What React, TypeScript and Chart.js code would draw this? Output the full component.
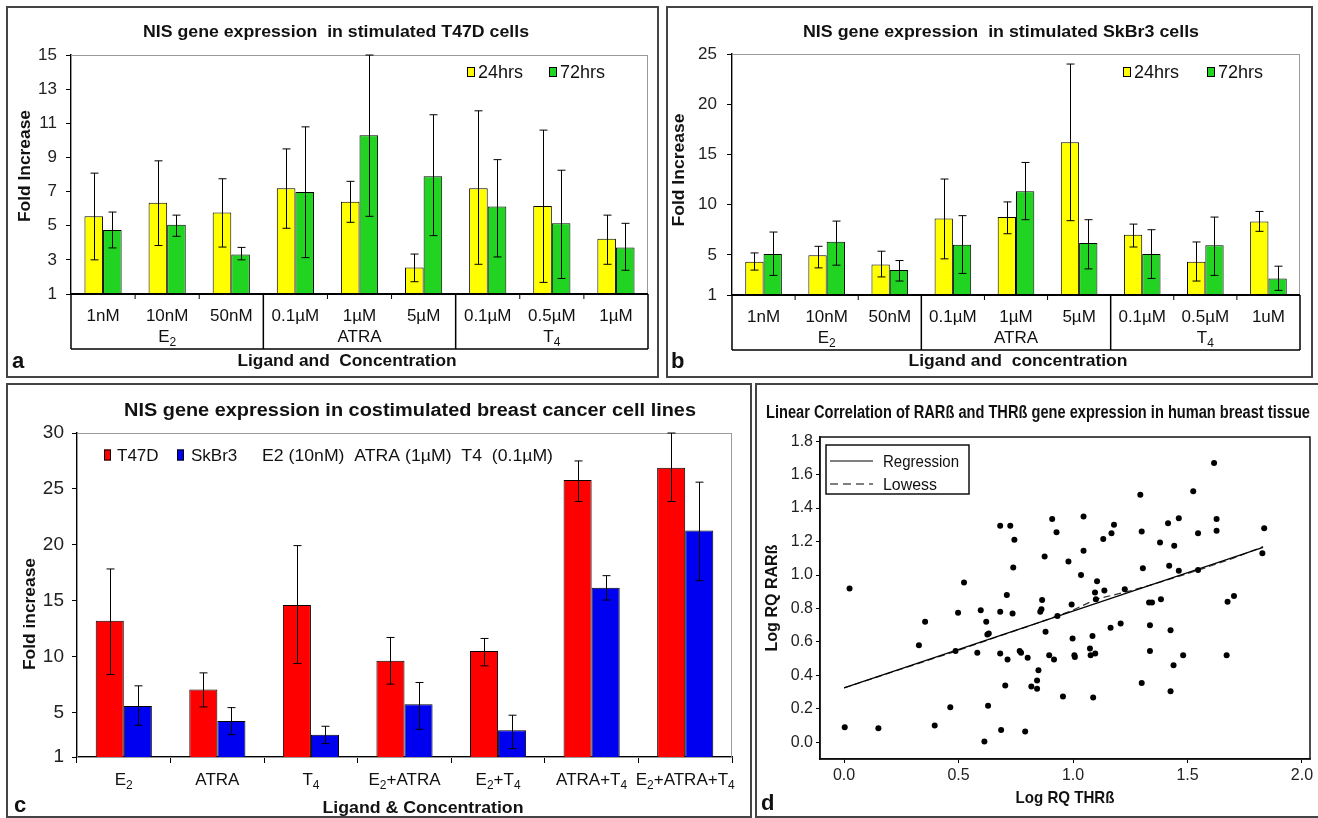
import React, { useEffect, useRef } from "react";
import { Chart, registerables } from "chart.js";

Chart.register(...registerables);

const W = 1318;
const H = 818;
const FONT = "'Liberation Sans', Arial, Helvetica, sans-serif";
Chart.defaults.font.family = FONT;
Chart.defaults.color = "#222";

// ---------- Panel a : T47D ----------
const concLabelsA = ["1nM", "10nM", "50nM", "0.1µM", "1µM", "5µM", "0.1µM", "0.5µM", "1µM"];
const groupNames = ["E₂", "ATRA", "T₄"];
const groupSizes = [3, 3, 3];
const seriesNames = ["24hrs", "72hrs"];
const t47d24 = [5.55, 6.34, 5.78, 7.19, 6.4, 2.55, 7.19, 6.16, 4.23];
const t47d24Hi = [8.08, 8.8, 7.75, 9.5, 7.6, 3.34, 11.73, 10.6, 5.62];
const t47d24Lo = [3.0, 3.84, 3.75, 4.85, 5.2, 1.72, 2.74, 1.68, 2.74];
const t47d72 = [4.75, 5.06, 3.32, 6.98, 10.3, 7.9, 6.13, 5.14, 3.73];
const t47d72Hi = [5.8, 5.62, 3.73, 10.79, 15.0, 11.5, 8.87, 8.25, 5.14];
const t47d72Lo = [3.7, 4.38, 3.0, 3.13, 5.55, 4.42, 3.17, 1.91, 2.39];
const yTicksA = [1, 3, 5, 7, 9, 11, 13, 15];

// ---------- Panel b : SkBr3 ----------
const concLabelsB = ["1nM", "10nM", "50nM", "0.1µM", "1µM", "5µM", "0.1µM", "0.5µM", "1uM"];
const skbr24 = [4.3, 4.96, 4.04, 8.62, 8.76, 16.2, 7.0, 4.3, 8.33];
const skbr24Hi = [5.19, 5.85, 5.36, 12.55, 10.27, 24.0, 8.06, 6.28, 9.32];
const skbr24Lo = [3.48, 3.7, 2.8, 4.6, 7.1, 8.4, 5.78, 2.39, 7.34];
const skbr72 = [5.09, 6.31, 3.48, 6.0, 11.33, 6.18, 5.09, 5.95, 2.65];
const skbr72Hi = [7.27, 8.36, 4.43, 8.9, 14.2, 8.5, 7.5, 8.76, 3.87];
const skbr72Lo = [2.95, 3.97, 2.39, 3.15, 8.5, 3.6, 2.65, 2.95, 1.46];
const yTicksB = [1, 5, 10, 15, 20, 25];

// ---------- Panel c : costimulation ----------
const comboLabels = ["E₂", "ATRA", "T₄", "E₂+ATRA", "E₂+T₄", "ATRA+T₄", "E₂+ATRA+T₄"];
const cellNames = ["T47D", "SkBr3"];
const coT47d = [13.2, 7.04, 14.6, 9.61, 10.48, 25.8, 26.9];
const coT47dHi = [17.83, 8.53, 19.92, 11.7, 11.61, 27.5, 30];
const coT47dLo = [8.38, 5.48, 9.37, 7.52, 9.16, 23.87, 23.87];
const coSkbr = [5.57, 4.23, 3.0, 5.72, 3.39, 16.16, 21.27];
const coSkbrHi = [7.37, 5.42, 3.75, 7.67, 4.74, 17.23, 25.6];
const coSkbrLo = [3.84, 3.0, 2.2, 3.48, 1.75, 15.05, 16.78];
const yTicksC = [1, 5, 10, 15, 20, 25, 30];
const doseNote = "E2 (10nM)  ATRA (1µM)  T4  (0.1µM)";

// ---------- Panel d : correlation ----------
const tissuePoints: [number, number][] = [
  [0.024, 0.92], [0.003, 0.09], [0.15, 0.084], [0.354, 0.72], [0.327, 0.58], [0.396, 0.1], [0.464, 0.21], [0.487, 0.545], [0.498, 0.775], [0.524, 0.955],
  [0.582, 0.535], [0.597, 0.79], [0.621, 0.72], [0.626, 0.645], [0.632, 0.65], [0.629, 0.218], [0.613, 0.004], [0.682, 1.295], [0.726, 1.295], [0.744, 1.21],
  [0.739, 1.045], [0.711, 0.88], [0.682, 0.78], [0.736, 0.77], [0.682, 0.53], [0.714, 0.495], [0.704, 0.34], [0.686, 0.074], [0.767, 0.545], [0.773, 0.535],
  [0.791, 0.064], [0.802, 0.505], [0.818, 0.334], [0.843, 0.32], [0.843, 0.37], [0.849, 0.43], [0.857, 0.78], [0.865, 0.85], [0.862, 0.795], [0.876, 1.11],
  [0.88, 0.66], [0.896, 0.52], [0.909, 1.335], [0.917, 0.495], [0.928, 1.255], [0.932, 0.755], [0.956, 0.274], [0.98, 1.08], [0.994, 0.823], [0.998, 0.62],
  [1.006, 0.52], [1.008, 0.51], [1.035, 1.0], [1.046, 1.145], [1.046, 1.35], [1.074, 0.56], [1.077, 0.52], [1.085, 0.635], [1.088, 0.268], [1.096, 0.895],
  [1.1, 0.855], [1.097, 0.53], [1.105, 0.963], [1.132, 1.215], [1.137, 0.907], [1.164, 0.685], [1.168, 1.25], [1.179, 1.3], [1.208, 0.71], [1.226, 0.915],
  [1.294, 1.48], [1.3, 1.26], [1.305, 1.04], [1.3, 0.354], [1.332, 0.835], [1.345, 0.835], [1.336, 0.7], [1.336, 0.545], [1.38, 1.195], [1.384, 0.855],
  [1.415, 1.31], [1.42, 1.055], [1.426, 0.67], [1.426, 0.305], [1.439, 0.46], [1.442, 1.175], [1.462, 1.34], [1.462, 1.025], [1.481, 0.52], [1.525, 1.5],
  [1.546, 1.25], [1.546, 1.03], [1.616, 1.67], [1.627, 1.335], [1.627, 1.265], [1.671, 0.52], [1.675, 0.84], [1.703, 0.875], [1.835, 1.28], [1.827, 1.13],
];
const regressionLine: [number, number][] = [[0, 0.325], [1.83, 1.165]];
const lowessLine: [number, number][] = [
  [0, 0.325], [0.3, 0.46], [0.5, 0.55], [0.7, 0.645], [0.85, 0.715], [1.0, 0.79],
  [1.1, 0.855], [1.25, 0.905], [1.4, 0.965], [1.55, 1.03], [1.7, 1.1], [1.83, 1.17],
];
const xTicksD = [0, 0.5, 1.0, 1.5, 2.0];
const yTicksD = [0, 0.2, 0.4, 0.6, 0.8, 1.0, 1.2, 1.4, 1.6, 1.8];
const lineNames = ["Regression", "Lowess"];

// ---------- styles ----------
const YELLOW = "#ffff00";
const GREEN = "#22d422";
const RED = "#ff0000";
const BLUE = "#0000f0";
const SUBS = "₀₁₂₃₄₅₆₇₈₉";

type Area = { left: number; top: number; right: number; bottom: number };

function drawRich(
  ctx: CanvasRenderingContext2D,
  text: string,
  x: number,
  y: number,
  o: { size: number; bold?: boolean; color?: string; align?: "left" | "center" | "right"; rotate?: number; width?: number }
) {
  const runs: { t: string; sub: boolean }[] = [];
  for (const ch of text) {
    const k = SUBS.indexOf(ch);
    const sub = k >= 0;
    const c = sub ? String(k) : ch;
    const last = runs[runs.length - 1];
    if (last && last.sub === sub) last.t += c;
    else runs.push({ t: c, sub });
  }
  const wt = o.bold ? "bold " : "";
  const fN = `${wt}${o.size}px ${FONT}`;
  const fS = `${wt}${Math.round(o.size * 0.72)}px ${FONT}`;
  ctx.save();
  const widths = runs.map((r) => {
    ctx.font = r.sub ? fS : fN;
    return ctx.measureText(r.t).width;
  });
  const total = widths.reduce((a, b) => a + b, 0);
  ctx.translate(x, y);
  if (o.rotate) ctx.rotate(o.rotate);
  if (o.width) ctx.scale(o.width / total, 1);
  const align = o.align || "center";
  let cx = align === "center" ? -total / 2 : align === "right" ? -total : 0;
  ctx.fillStyle = o.color || "#111";
  ctx.textAlign = "left";
  ctx.textBaseline = "alphabetic";
  const base = o.size * 0.358;
  runs.forEach((r, i) => {
    ctx.font = r.sub ? fS : fN;
    ctx.fillText(r.t, cx, r.sub ? base + o.size * 0.22 : base);
    cx += widths[i];
  });
  ctx.restore();
}

function line(ctx: CanvasRenderingContext2D, x1: number, y1: number, x2: number, y2: number, color = "#000", lw = 1, dash: number[] = []) {
  ctx.save();
  ctx.strokeStyle = color;
  ctx.lineWidth = lw;
  ctx.setLineDash(dash);
  ctx.beginPath();
  ctx.moveTo(x1, y1);
  ctx.lineTo(x2, y2);
  ctx.stroke();
  ctx.restore();
}

function swatch(ctx: CanvasRenderingContext2D, x: number, yc: number, w: number, h: number, color: string) {
  ctx.save();
  ctx.fillStyle = color;
  ctx.fillRect(x, yc - h / 2, w, h);
  ctx.strokeStyle = "#000";
  ctx.lineWidth = 1;
  ctx.strokeRect(x + 0.5, yc - h / 2 + 0.5, w - 1, h - 1);
  ctx.restore();
}

function layoutFor(area: Area, yW: number, xH: number) {
  return { padding: { left: area.left - yW, top: area.top, right: W - area.right, bottom: H - area.bottom - xH } };
}

function yAxis(min: number, max: number, ticks: number[], o: { w: number; size: number; pad: number; tick: number; fmt?: (v: number) => string }) {
  return {
    type: "linear",
    min,
    max,
    afterBuildTicks: (s: any) => {
      s.ticks = ticks.map((v) => ({ value: v }));
    },
    afterFit: (s: any) => {
      s.width = o.w;
      s.paddingTop = 0;
      s.paddingBottom = 0;
      s.paddingLeft = 0;
      s.paddingRight = 0;
    },
    ticks: { font: { size: o.size }, color: "#222", padding: o.pad, callback: (v: any) => (o.fmt ? o.fmt(Number(v)) : String(v)) },
    grid: { drawOnChartArea: false, drawTicks: true, tickLength: o.tick, color: "#000", lineWidth: 1 },
    border: { display: true, color: "#000", width: 1.5 },
  };
}

const errorBarPlugin = {
  id: "errorBars",
  afterDatasetsDraw(chart: any) {
    const ctx = chart.ctx as CanvasRenderingContext2D;
    const ys = chart.scales.y;
    chart.data.datasets.forEach((ds: any, i: number) => {
      if (!ds.errHi) return;
      const meta = chart.getDatasetMeta(i);
      meta.data.forEach((el: any, j: number) => {
        const x = Math.round(el.x) + 0.5;
        const yh = ys.getPixelForValue(ds.errHi[j]);
        const yl = ys.getPixelForValue(ds.errLo[j]);
        ctx.save();
        ctx.strokeStyle = "#000";
        ctx.lineWidth = 1;
        ctx.beginPath();
        ctx.moveTo(x, yl);
        ctx.lineTo(x, yh);
        ctx.moveTo(x - 4, yh);
        ctx.lineTo(x + 4, yh);
        ctx.moveTo(x - 4, yl);
        ctx.lineTo(x + 4, yl);
        ctx.stroke();
        ctx.restore();
      });
    });
  },
};

type ABParams = {
  id: string;
  labels: string[];
  s24: number[]; s24Hi: number[]; s24Lo: number[];
  s72: number[]; s72Hi: number[]; s72Lo: number[];
  yMax: number; yTicks: number[];
  area: Area; tickPad: number;
  title: string; titleX: number; titleW: number;
  yTitleX: number; yTitleY: number; yTitleW: number;
  xTitle: string; xTitleX: number; xTitleW: number;
  letter: string; letterX: number; letterY: number;
  legend: [number, number, number, number];
};

function makeAB(p: ABParams) {
  const decor = {
    id: "decor" + p.id,
    beforeDatasetsDraw(chart: any) {
      const ctx = chart.ctx as CanvasRenderingContext2D;
      const a = chart.chartArea;
      ctx.save();
      ctx.strokeStyle = "#9a9a9a";
      ctx.lineWidth = 1;
      ctx.strokeRect(a.left + 0.5, a.top + 0.5, a.right - a.left - 1, a.bottom - a.top);
      ctx.restore();
    },
    afterDraw(chart: any) {
      const ctx = chart.ctx as CanvasRenderingContext2D;
      const a = chart.chartArea;
      const xs = chart.scales.x;
      const step = xs.getPixelForValue(1) - xs.getPixelForValue(0);
      const tb = a.bottom + 55;
      line(ctx, a.left, a.bottom, a.right, a.bottom, "#000", 2);
      line(ctx, a.left, a.bottom, a.left, tb, "#000", 1.5);
      line(ctx, a.right, a.bottom, a.right, tb, "#000", 1.5);
      line(ctx, a.left, tb, a.right, tb, "#000", 1.5);
      let idx = 0;
      const groupEnds: number[] = [];
      groupSizes.forEach((g) => {
        idx += g;
        groupEnds.push(idx - 1);
      });
      p.labels.forEach((lab, i) => {
        const cx = xs.getPixelForValue(i);
        drawRich(ctx, lab, cx, a.bottom + 21, { size: 17, color: "#111" });
        if (i < p.labels.length - 1) {
          const bx = cx + step / 2;
          if (groupEnds.includes(i)) line(ctx, bx, a.bottom, bx, tb, "#000", 1.5);
          else line(ctx, bx, a.bottom, bx, a.bottom + 5, "#000", 1);
        }
      });
      let start = 0;
      groupNames.forEach((g, k) => {
        const first = xs.getPixelForValue(start);
        const last = xs.getPixelForValue(start + groupSizes[k] - 1);
        drawRich(ctx, g, (first + last) / 2, a.bottom + 42, { size: 17, color: "#111" });
        start += groupSizes[k];
      });
      const ly = 72;
      swatch(ctx, p.legend[0], ly, 8, 10, YELLOW);
      drawRich(ctx, seriesNames[0], p.legend[1], ly, { size: 18, align: "left", color: "#111" });
      swatch(ctx, p.legend[2], ly, 8, 10, GREEN);
      drawRich(ctx, seriesNames[1], p.legend[3], ly, { size: 18, align: "left", color: "#111" });
      drawRich(ctx, p.title, p.titleX, 31, { size: 17, bold: true, width: p.titleW });
      drawRich(ctx, "Fold Increase", p.yTitleX, p.yTitleY, { size: 17, bold: true, rotate: -Math.PI / 2, width: p.yTitleW });
      drawRich(ctx, p.xTitle, p.xTitleX, 360, { size: 17, bold: true, width: p.xTitleW });
      drawRich(ctx, p.letter, p.letterX, p.letterY, { size: 22, bold: true, align: "left" });
    },
  };
  return {
    type: "bar",
    data: {
      labels: p.labels,
      datasets: [
        { label: seriesNames[0], data: p.s24, errHi: p.s24Hi, errLo: p.s24Lo, backgroundColor: YELLOW, borderColor: "#000", borderWidth: 1 },
        { label: seriesNames[1], data: p.s72, errHi: p.s72Hi, errLo: p.s72Lo, backgroundColor: GREEN, borderColor: "#000", borderWidth: 1 },
      ],
    },
    options: {
      responsive: false,
      animation: false,
      devicePixelRatio: 1,
      layout: layoutFor(p.area, 40, 0),
      datasets: { bar: { categoryPercentage: 0.58, barPercentage: 1 } },
      plugins: { legend: { display: false }, title: { display: false }, tooltip: { enabled: false } },
      scales: {
        x: { type: "category", display: false, offset: true },
        y: yAxis(1, p.yMax, p.yTicks, { w: 40, size: 17, pad: p.tickPad, tick: 5 }),
      },
    },
    plugins: [decor, errorBarPlugin],
  };
}

function configA() {
  return makeAB({
    id: "A",
    labels: concLabelsA,
    s24: t47d24, s24Hi: t47d24Hi, s24Lo: t47d24Lo,
    s72: t47d72, s72Hi: t47d72Hi, s72Lo: t47d72Lo,
    yMax: 15, yTicks: yTicksA,
    area: { left: 71, top: 55, right: 648, bottom: 294 }, tickPad: 9,
    title: "NIS gene expression  in stimulated T47D cells", titleX: 336, titleW: 386,
    yTitleX: 24, yTitleY: 166, yTitleW: 112,
    xTitle: "Ligand and  Concentration", xTitleX: 347, xTitleW: 219,
    letter: "a", letterX: 12, letterY: 360,
    legend: [467, 478, 549, 560],
  });
}

function configB() {
  return makeAB({
    id: "B",
    labels: concLabelsB,
    s24: skbr24, s24Hi: skbr24Hi, s24Lo: skbr24Lo,
    s72: skbr72, s72Hi: skbr72Hi, s72Lo: skbr72Lo,
    yMax: 25, yTicks: yTicksB,
    area: { left: 732, top: 54, right: 1300, bottom: 295 }, tickPad: 10,
    title: "NIS gene expression  in stimulated SkBr3 cells", titleX: 1001, titleW: 396,
    yTitleX: 678, yTitleY: 170, yTitleW: 113,
    xTitle: "Ligand and  concentration", xTitleX: 1018, xTitleW: 219,
    letter: "b", letterX: 671, letterY: 360,
    legend: [1123, 1134, 1207, 1218],
  });
}

function configC() {
  const area = { left: 77, top: 433, right: 732, bottom: 757 };
  const decor = {
    id: "decorC",
    beforeDatasetsDraw(chart: any) {
      const ctx = chart.ctx as CanvasRenderingContext2D;
      const a = chart.chartArea;
      ctx.save();
      ctx.strokeStyle = "#9a9a9a";
      ctx.lineWidth = 1;
      ctx.strokeRect(a.left + 0.5, a.top + 0.5, a.right - a.left - 1, a.bottom - a.top);
      ctx.restore();
    },
    afterDraw(chart: any) {
      const ctx = chart.ctx as CanvasRenderingContext2D;
      const a = chart.chartArea;
      const xs = chart.scales.x;
      comboLabels.forEach((lab, i) => {
        drawRich(ctx, lab, xs.getPixelForValue(i), a.bottom + 22, { size: 17, color: "#111" });
      });
      const ly = 455;
      swatch(ctx, 104, ly, 7, 11, RED);
      drawRich(ctx, cellNames[0], 117, ly, { size: 17, align: "left" });
      swatch(ctx, 177, ly, 7, 11, BLUE);
      drawRich(ctx, cellNames[1], 191, ly, { size: 17, align: "left" });
      drawRich(ctx, doseNote, 262, ly, { size: 17, align: "left", width: 291 });
      drawRich(ctx, "NIS gene expression in costimulated breast cancer cell lines", 410, 410, { size: 18, bold: true, width: 572 });
      drawRich(ctx, "Fold increase", 29, 614, { size: 17, bold: true, rotate: -Math.PI / 2, width: 112 });
      drawRich(ctx, "Ligand & Concentration", 423, 807, { size: 17, bold: true, width: 201 });
      drawRich(ctx, "c", 14, 804, { size: 22, bold: true, align: "left" });
    },
  };
  return {
    type: "bar",
    data: {
      labels: comboLabels,
      datasets: [
        { label: cellNames[0], data: coT47d, errHi: coT47dHi, errLo: coT47dLo, backgroundColor: RED, borderColor: "#000", borderWidth: 1 },
        { label: cellNames[1], data: coSkbr, errHi: coSkbrHi, errLo: coSkbrLo, backgroundColor: BLUE, borderColor: "#000", borderWidth: 1 },
      ],
    },
    options: {
      responsive: false,
      animation: false,
      devicePixelRatio: 1,
      layout: layoutFor(area, 40, 40),
      datasets: { bar: { categoryPercentage: 0.6, barPercentage: 1 } },
      plugins: { legend: { display: false }, title: { display: false }, tooltip: { enabled: false } },
      scales: {
        x: {
          type: "category",
          offset: true,
          afterFit: (s: any) => {
            s.height = 40;
            s.paddingLeft = 0;
            s.paddingRight = 0;
          },
          ticks: { display: false },
          grid: { offset: true, drawOnChartArea: false, drawTicks: true, tickLength: 6, color: "#000", lineWidth: 1 },
          border: { display: true, color: "#000", width: 1.5 },
        },
        y: yAxis(1, 30, yTicksC, { w: 40, size: 19, pad: 8, tick: 5 }),
      },
    },
    plugins: [decor, errorBarPlugin],
  };
}

function configD() {
  const area = { left: 820, top: 437, right: 1310, bottom: 759 };
  const decor = {
    id: "decorD",
    afterDraw(chart: any) {
      const ctx = chart.ctx as CanvasRenderingContext2D;
      const a = chart.chartArea;
      ctx.save();
      ctx.strokeStyle = "#111";
      ctx.lineWidth = 1.5;
      ctx.strokeRect(a.left, a.top, a.right - a.left, a.bottom - a.top);
      ctx.fillStyle = "#fff";
      ctx.fillRect(826, 445, 143, 49);
      ctx.strokeRect(826, 445, 143, 49);
      ctx.restore();
      line(ctx, 830, 461, 873, 461, "#000", 1.2);
      drawRich(ctx, lineNames[0], 883, 461, { size: 17, align: "left", width: 76 });
      line(ctx, 830, 484, 873, 484, "#000", 1.2, [8, 5]);
      drawRich(ctx, lineNames[1], 883, 484, { size: 17, align: "left", width: 54 });
      drawRich(ctx, "Linear Correlation of RARß and THRß gene expression in human breast tissue", 1038, 412, { size: 18, bold: true, width: 544 });
      drawRich(ctx, "Log RQ RARß", 771, 598, { size: 17, bold: true, rotate: -Math.PI / 2, width: 107 });
      drawRich(ctx, "Log RQ THRß", 1065, 797, { size: 17, bold: true, width: 99 });
      drawRich(ctx, "d", 761, 802, { size: 22, bold: true, align: "left" });
    },
  };
  const fmt = (v: number) => v.toFixed(1);
  return {
    type: "scatter",
    data: {
      datasets: [
        { label: "points", data: tissuePoints.map(([x, y]) => ({ x, y })), pointRadius: 3, backgroundColor: "#000", borderColor: "#000", borderWidth: 0 },
        { label: lineNames[0], data: regressionLine.map(([x, y]) => ({ x, y })), showLine: true, pointRadius: 0, borderColor: "#000", borderWidth: 1.2 },
        { label: lineNames[1], data: lowessLine.map(([x, y]) => ({ x, y })), showLine: true, pointRadius: 0, borderColor: "#333", borderWidth: 1.2, borderDash: [7, 4] },
      ],
    },
    options: {
      responsive: false,
      animation: false,
      devicePixelRatio: 1,
      layout: layoutFor(area, 40, 30),
      plugins: { legend: { display: false }, title: { display: false }, tooltip: { enabled: false } },
      scales: {
        x: {
          type: "linear",
          min: -0.105,
          max: 2.035,
          afterBuildTicks: (s: any) => {
            s.ticks = xTicksD.map((v) => ({ value: v }));
          },
          afterFit: (s: any) => {
            s.height = 30;
            s.paddingLeft = 0;
            s.paddingRight = 0;
          },
          ticks: { font: { size: 16 }, color: "#222", padding: 3, maxRotation: 0, callback: (v: any) => fmt(Number(v)) },
          grid: { drawOnChartArea: false, drawTicks: true, tickLength: 4, color: "#000" },
          border: { display: true, color: "#000", width: 1.5 },
        },
        y: yAxis(-0.1, 1.825, yTicksD, { w: 40, size: 16, pad: 3, tick: 4, fmt }),
      },
    },
    plugins: [decor],
  };
}

function ChartCanvas({ make }: { make: () => any }) {
  const ref = useRef<HTMLCanvasElement>(null);
  useEffect(() => {
    if (!ref.current) return;
    const chart = new Chart(ref.current, make());
    return () => chart.destroy();
  }, [make]);
  return <canvas ref={ref} width={W} height={H} style={{ position: "absolute", left: 0, top: 0, width: W, height: H }} />;
}

const frames: [number, number, number, number][] = [
  [7, 7, 658, 377],
  [667, 7, 1312, 377],
  [7, 384, 751, 817],
  [756, 384, 1324, 817],
];

export default function App() {
  return (
    <div style={{ position: "absolute", left: 0, top: 0, width: W, height: H, background: "#fff", overflow: "hidden" }}>
      {frames.map(([x1, y1, x2, y2], i) => (
        <div
          key={i}
          style={{
            position: "absolute",
            left: x1 - 1,
            top: y1 - 1,
            width: x2 - x1 + 2,
            height: y2 - y1 + 2,
            border: "2px solid #444",
            boxSizing: "border-box",
          }}
        />
      ))}
      <ChartCanvas make={configA} />
      <ChartCanvas make={configB} />
      <ChartCanvas make={configC} />
      <ChartCanvas make={configD} />
    </div>
  );
}
